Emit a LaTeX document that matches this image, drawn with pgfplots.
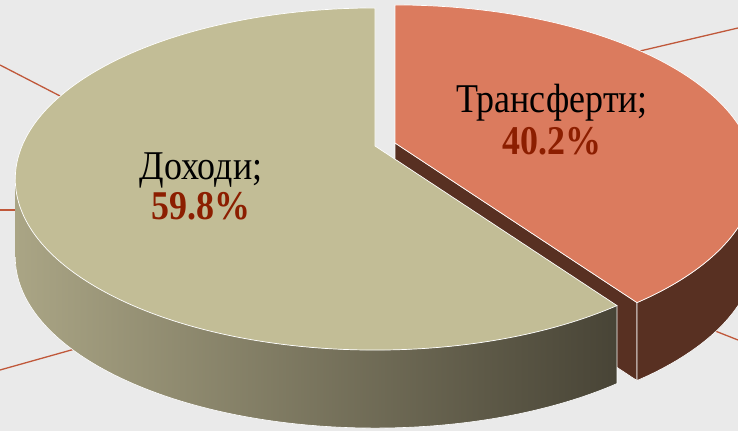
\documentclass[border=0pt]{standalone}
\usepackage{pgfplots}
\pgfplotsset{compat=1.18}
\usepackage{pgfplotstable}
\usepackage{fontspec}
\setmainfont{Liberation Serif}
\definecolor{bgc}{RGB}{234,234,234}
\definecolor{dohtop}{RGB}{194,189,150}
\definecolor{dohsideL}{RGB}{170,165,133}
\definecolor{dohsideM}{RGB}{122,118,94}
\definecolor{dohsideR}{RGB}{72,68,54}
\definecolor{trtop}{RGB}{219,123,94}
\definecolor{trside}{RGB}{88,48,34}
\definecolor{pct}{RGB}{140,30,0}
\definecolor{deco}{RGB}{192,88,58}
\pgfplotstableread{
label share
Dohody 59.8
Transf 40.2
}\piedata
\begin{document}
\begin{tikzpicture}
\pgfplotstablegetelem{1}{share}\of\piedata
\let\shT\pgfplotsretval
\pgfmathsetmacro{\pk}{0.193}
\pgfmathsetmacro{\pR}{353}
\pgfmathsetmacro{\pa}{164.7}
\def\Vx{375}\def\Vy{285}
\pgfmathsetmacro{\rx}{\pR/sqrt(1-\pk*\pk)}
\pgfmathsetmacro{\ry}{\pa/(1-\pk*\pk)}
\pgfmathsetmacro{\Ex}{\Vx}
\pgfmathsetmacro{\Ey}{\Vy-\pa*\pk/(1-\pk*\pk)}
\pgfmathsetmacro{\thc}{90-3.6*\shT}
\pgfmathsetmacro{\wc}{1+\pk*sin(\thc)}
\pgfmathsetmacro{\cphi}{cos(\thc)*sqrt(1-\pk*\pk)/\wc}
\pgfmathsetmacro{\sphi}{sin(\thc)*(1-\pk*\pk)/\wc+\pk}
\pgfmathsetmacro{\phic}{atan2(\sphi,\cphi)}
\pgfmathsetmacro{\phicc}{\phic+360}
\pgfmathsetmacro{\Cx}{\Ex+\rx*cos(\phic)}
\pgfmathsetmacro{\Cy}{\Ey+\ry*sin(\phic)}
\pgfmathsetmacro{\Ty}{\Ey+\ry}
\def\pH{78}
\def\oX{20}\def\oY{3}
\pgfmathsetmacro{\VxE}{\Vx+\oX}
\pgfmathsetmacro{\VyE}{\Vy+\oY}
\pgfmathsetmacro{\CxE}{\Cx+\oX}
\pgfmathsetmacro{\CyE}{\Cy+\oY}
\pgfmathsetmacro{\TyE}{\Ty+\oY}
\pgfmathsetmacro{\RxE}{\Ex+\rx+\oX}
\pgfmathsetmacro{\EyE}{\Ey+\oY}
\pgfmathsetmacro{\CyEb}{\CyE-\pH}
\pgfmathsetmacro{\VyEb}{\VyE-\pH}
\pgfmathsetmacro{\EyEb}{\EyE-\pH}
\pgfmathsetmacro{\Cyb}{\Cy-\pH}
\pgfmathsetmacro{\Lx}{\Ex-\rx}
\pgfmathsetmacro{\Eyb}{\Ey-\pH}
\begin{axis}[hide axis, scale only axis, width=738bp, height=431bp,
  xmin=0, xmax=738, ymin=0, ymax=431, disabledatascaling, clip=true]
\fill[bgc] (axis cs:0,0) rectangle (axis cs:738,431);
% decorative background lines
\addplot[deco, line width=1.3pt, forget plot] coordinates {(0,366) (62,334)};
\addplot[deco, line width=1.3pt, forget plot] coordinates {(0,221) (20,221)};
\addplot[deco, line width=1.3pt, forget plot] coordinates {(0,61) (82,84)};
\addplot[deco, line width=1.3pt, forget plot] coordinates {(640,380) (738,403)};
\addplot[deco, line width=1.3pt, forget plot] coordinates {(700,106) (738,91)};
% Transferty slice (exploded)
\fill[trside, draw=white, line width=0.6pt] (axis cs:\VxE,\VyE) -- (axis cs:\CxE,\CyE) -- (axis cs:\CxE,\CyEb) -- (axis cs:\VxE,\VyEb) -- cycle;
\fill[trside, draw=white, line width=0.6pt] (axis cs:\CxE,\CyE) arc[start angle=\phic, end angle=0, x radius=\rx, y radius=\ry] -- (axis cs:\RxE,\EyEb) arc[start angle=0, end angle=\phic, x radius=\rx, y radius=\ry] -- cycle;
\fill[trtop, draw=white, line width=0.7pt] (axis cs:\VxE,\VyE) -- (axis cs:\VxE,\TyE) arc[start angle=90, end angle=\phic, x radius=\rx, y radius=\ry] -- cycle;
% Dohody slice
\shade[left color=dohsideL, middle color=dohsideM, right color=dohsideR] (axis cs:\Lx,\Ey) arc[start angle=180, end angle=\phicc, x radius=\rx, y radius=\ry] -- (axis cs:\Cx,\Cyb) arc[start angle=\phicc, end angle=180, x radius=\rx, y radius=\ry] -- cycle;
\draw[white, line width=0.6pt] (axis cs:\Cx,\Cy) -- (axis cs:\Cx,\Cyb) arc[start angle=\phicc, end angle=180, x radius=\rx, y radius=\ry];
\fill[dohtop, draw=white, line width=0.7pt] (axis cs:\Vx,\Vy) -- (axis cs:\Cx,\Cy) arc[start angle=\phic, end angle=-270, x radius=\rx, y radius=\ry] -- cycle;
% labels
\node[anchor=base, xscale=0.88, font=\fontsize{41}{44}\selectfont] at (axis cs:201,251) {Доходи;};
\node[anchor=base, xscale=0.88, text=pct, font=\fontsize{41}{44}\selectfont\bfseries] at (axis cs:201,211) {59.8\%};
\node[anchor=base, xscale=0.88, font=\fontsize{41}{44}\selectfont] at (axis cs:552,318) {Трансферти;};
\node[anchor=base, xscale=0.88, text=pct, font=\fontsize{41}{44}\selectfont\bfseries] at (axis cs:552,276) {40.2\%};
\end{axis}
\end{tikzpicture}
\end{document}
